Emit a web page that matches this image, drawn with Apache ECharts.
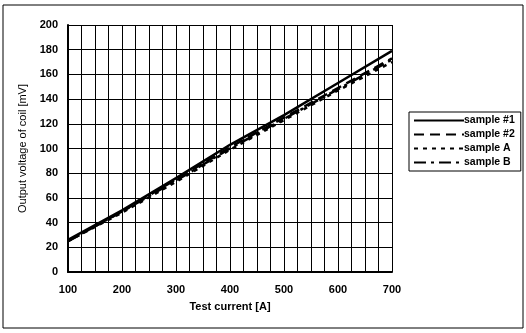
<!DOCTYPE html>
<html>
<head>
<meta charset="utf-8">
<script src="https://cdn.jsdelivr.net/npm/echarts@6/dist/echarts.min.js"></script>
<style>
  html, body { margin: 0; padding: 0; background: #fff; }
  #chart { width: 526px; height: 333px; }
</style>
</head>
<body>
<div id="chart"></div>
<script>
// test current [A]
var currents = [100, 200, 300, 400, 500, 600, 700];
// output voltage of coil [mV]
var sample1 = [26, 50, 76, 103, 127, 153, 179];
var sample2 = [25, 49, 75, 101, 125, 149, 173];
var sampleA = [25, 48, 73, 99, 123, 147, 170];
var sampleB = [25, 49, 74, 100, 124, 148, 172];
var seriesNames = ['sample #1', 'sample #2', 'sample A', 'sample B'];

function pairs(vals) {
    return currents.map(function (c, i) { return [c, vals[i]]; });
}

var myChart = echarts.init(document.getElementById('chart'));
var font = 'Liberation Sans, Arial, sans-serif';

function line(name, vals, type) {
    return {
        name: name,
        type: 'line',
        data: pairs(vals),
        symbol: 'none',
        lineStyle: { color: '#000', width: 2.5, type: type },
        itemStyle: { color: '#000' }
    };
}

var option = {
    backgroundColor: '#fff',
    animation: false,
    textStyle: { fontFamily: font },
    graphic: [{
        type: 'rect',
        shape: { x: 3, y: 5, width: 520, height: 323 },
        style: { fill: 'none', stroke: '#000', lineWidth: 1 }
    }],
    grid: { left: 68, right: 134, top: 25, bottom: 61 },
    legend: {
        orient: 'vertical',
        left: 409,
        top: 112,
        itemWidth: 50,
        itemHeight: 10,
        itemGap: 3,
        padding: [3, 6, 3, 4],
        borderColor: '#000',
        borderWidth: 1,
        itemStyle: { opacity: 0 },
        textStyle: { color: '#000', fontSize: 10.5, fontWeight: 'bold', padding: [0, 0, 0, -5] },
        data: seriesNames
    },
    xAxis: {
        type: 'value',
        min: 100,
        max: 700,
        interval: 100,
        name: 'Test current [A]',
        nameLocation: 'middle',
        nameGap: 29,
        nameTextStyle: { color: '#000', fontSize: 11, fontWeight: 'bold' },
        axisLine: { show: true, lineStyle: { color: '#000', width: 2 } },
        axisTick: { show: false },
        axisLabel: { color: '#000', fontSize: 11, fontWeight: 'bold', margin: 12 },
        splitLine: { show: true, lineStyle: { color: '#000', width: 1 } },
        minorTick: { show: false, splitNumber: 4 },
        minorSplitLine: { show: true, lineStyle: { color: '#000', width: 1 } }
    },
    yAxis: {
        type: 'value',
        min: 0,
        max: 200,
        interval: 20,
        name: 'Output voltage of coil [mV]',
        nameLocation: 'middle',
        nameGap: 38,
        nameTextStyle: { color: '#000', fontSize: 11 },
        axisLine: { show: true, lineStyle: { color: '#000', width: 2 } },
        axisTick: { show: true, length: 3, inside: true, lineStyle: { color: '#000' } },
        axisLabel: { color: '#000', fontSize: 11, fontWeight: 'bold', margin: 10 },
        splitLine: { show: true, lineStyle: { color: '#000', width: 1 } }
    },
    series: [
        line(seriesNames[0], sample1, 'solid'),
        line(seriesNames[1], sample2, [10, 6]),
        line(seriesNames[2], sampleA, [4, 5]),
        line(seriesNames[3], sampleB, [12, 5, 3, 5])
    ]
};
myChart.setOption(option);
</script>
</body>
</html>
